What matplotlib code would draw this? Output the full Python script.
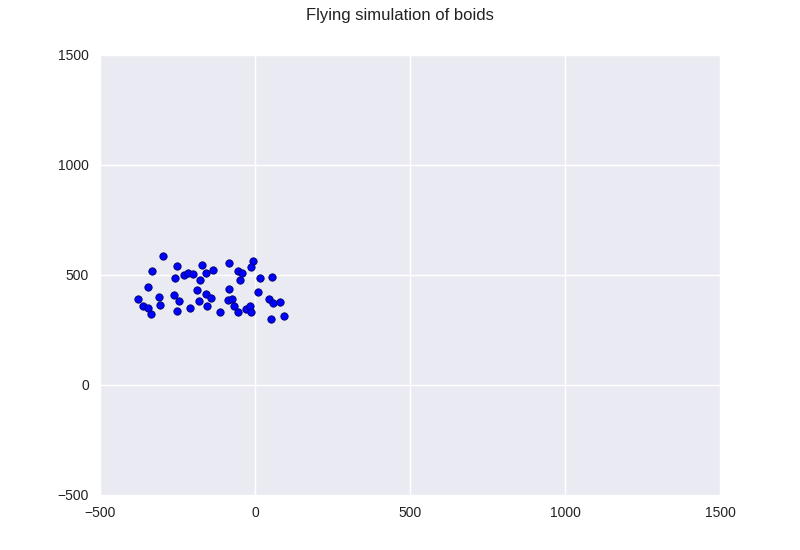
import matplotlib
matplotlib.use("Agg")
import matplotlib.pyplot as plt
import seaborn as sns

# boid positions
boid_x = [-296, -331, -251, -257, -228, -215, -199, -170, -157, -136,
          -176, -344, -186, -376, -309, -260, -244, -158, -141, -180,
          -362, -344, -305, -335, -251, -209, -154, -83, -5, -12,
          -54, -43, -47, 17, 56, -83, 11, -88, -75, 46,
          57, 82, -67, -29, -15, -12, -54, -112, 53, 95]
boid_y = [588, 519, 542, 487, 501, 511, 505, 547, 511, 522,
          478, 446, 432, 391, 400, 410, 382, 414, 396, 382,
          359, 350, 364, 323, 337, 350, 359, 556, 565, 537,
          517, 507, 478, 487, 492, 437, 423, 388, 391, 391,
          373, 378, 359, 346, 359, 332, 332, 332, 301, 314]

x_ticks = [-500, 0, 500, 1000, 1500]
y_ticks = [-500, 0, 500, 1000, 1500]

sns.set_style("darkgrid")
plt.rcParams['font.family'] = ['Liberation Sans', 'DejaVu Sans']
plt.rcParams['axes.unicode_minus'] = True

fig = plt.figure(figsize=(8, 5.5), dpi=100)
ax = fig.add_subplot(111)
fig.subplots_adjust(left=0.125, right=0.9, top=0.9, bottom=0.1)
fig.suptitle("Flying simulation of boids", fontsize=12, y=0.985, color='#222222')

ax.scatter(boid_x, boid_y, s=28, c='#0000ff', edgecolors='#000066', linewidths=0.6, zorder=3)

ax.set_xlim(-500, 1500)
ax.set_ylim(-500, 1500)
ax.set_xticks(x_ticks)
ax.set_yticks(y_ticks)
ax.tick_params(labelsize=10, length=0, pad=8, colors='#222222')
ax.set_facecolor('#eaeaf2')
ax.grid(True, color='white', linewidth=1)
for s in ax.spines.values():
    s.set_visible(False)

fig.savefig("out.png", dpi=100)
